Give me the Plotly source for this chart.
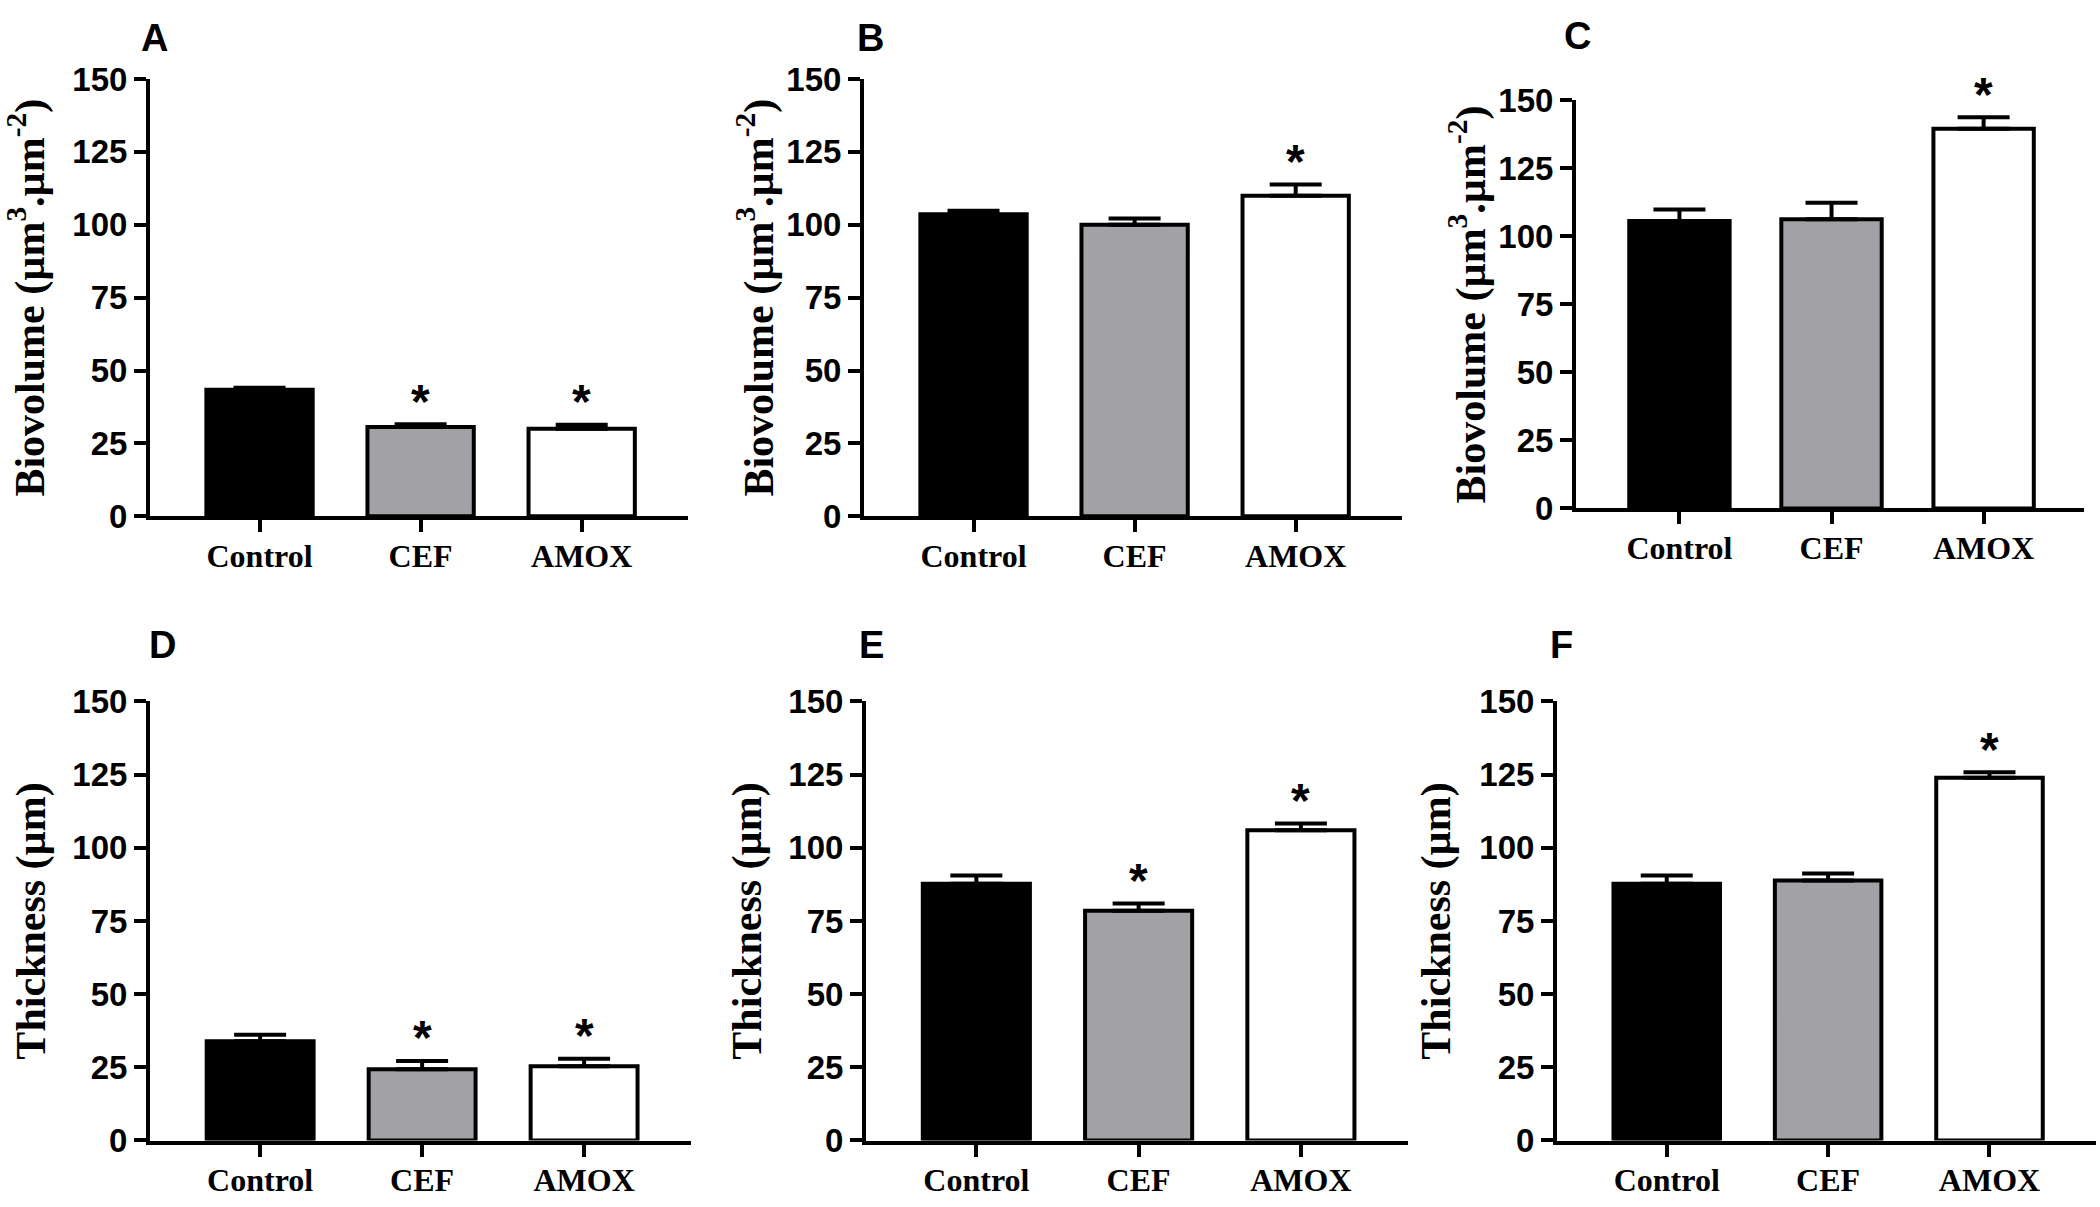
import plotly.graph_objects as go

W, H = 2100, 1207

categories = ["Control", "CEF", "AMOX"]
panel_letters = ["A", "B", "C", "D", "E", "F"]
y_titles = ["Biovolume (µm<sup>3</sup>.µm<sup>-2</sup>)"] * 3 + ["Thickness (µm)"] * 3
y_tick_values = [0, 25, 50, 75, 100, 125, 150]

# Means and (upper) error bars
mean_A = [43.4, 30.6, 30.0]
err_A = [0.7, 1.0, 1.4]
mean_B = [103.6, 100.0, 110.0]
err_B = [1.2, 2.2, 3.8]
mean_C = [105.7, 106.3, 139.6]
err_C = [4.2, 6.1, 4.2]
mean_D = [33.9, 24.3, 25.4]
err_D = [2.2, 2.9, 2.5]
mean_E = [87.7, 78.5, 106.0]
err_E = [2.8, 2.5, 2.3]
mean_F = [87.7, 88.8, 123.9]
err_F = [2.8, 2.4, 1.9]

# significance markers (*)
sig_A = [False, True, True]
sig_B = [False, False, True]
sig_C = [False, False, True]
sig_D = [False, True, True]
sig_E = [False, True, True]
sig_F = [False, False, True]

means = [mean_A, mean_B, mean_C, mean_D, mean_E, mean_F]
errs = [err_A, err_B, err_C, err_D, err_E, err_F]
sigs = [sig_A, sig_B, sig_C, sig_D, sig_E, sig_F]

bar_colors = ["#000000", "#a2a2a6", "#ffffff"]

# layout geometry in pixels: (x0, x1, ytop, ybottom)
boxes = [
    (150, 688, 63, 514),
    (864, 1402, 63, 514),
    (1576, 2084, 85, 506),
    (150, 691, 705, 1158),
    (866, 1408, 705, 1158),
    (1557, 2096, 705, 1158),
]
title_standoff = [17, 1, 1, 15, 15, 17]
letter_pos = [(154, 21), (870, 21), (1577, 19), (162, 647), (871, 647), (1561, 647)]

SANS = "Liberation Sans"
SERIF = "Liberation Serif"

fig = go.Figure()
annotations = []
for i in range(6):
    n = "" if i == 0 else str(i + 1)
    xa, ya = "x" + n, "y" + n
    fig.add_trace(go.Bar(
        x=categories, y=means[i], xaxis=xa, yaxis=ya,
        width=0.66,
        marker=dict(color=bar_colors, line=dict(color="black", width=4)),
        error_y=dict(type="data", array=errs[i], arrayminus=[0, 0, 0], symmetric=False,
                     color="black", thickness=4, width=26),
        showlegend=False, hoverinfo="skip",
    ))
    x0, x1, yt, yb = boxes[i]
    fig.layout["xaxis" + n] = dict(
        domain=[x0 / W, x1 / W], anchor=ya, range=[-0.68, 2.66],
        showline=True, linecolor="black", linewidth=4,
        ticks="outside", ticklen=12, tickwidth=4, tickcolor="black",
        ticklabelstandoff=-4,
        tickfont=dict(family=SERIF, size=32, color="black", weight="bold"),
        showgrid=False, zeroline=False, fixedrange=True,
    )
    fig.layout["yaxis" + n] = dict(
        domain=[1 - yb / H, 1 - yt / H], anchor=xa, range=[0, 150],
        tickvals=y_tick_values,
        showline=True, linecolor="black", linewidth=4,
        ticks="outside", ticklen=12, tickwidth=4, tickcolor="black",
        tickfont=dict(family=SANS, size=33, color="black", weight="bold"),
        title=dict(text=y_titles[i], standoff=title_standoff[i],
                   font=dict(family=SERIF, size=42, color="black", weight="bold")),
        showgrid=False, zeroline=False, fixedrange=True,
    )
    # panel letter
    lx, ly = letter_pos[i]
    annotations.append(dict(
        text=panel_letters[i], xref="paper", yref="paper",
        x=lx / W, y=1 - ly / H, xanchor="center", yanchor="middle", showarrow=False,
        font=dict(family=SANS, size=38, color="black", weight="bold"),
    ))
    # significance stars
    for c, m, e, s in zip(categories, means[i], errs[i], sigs[i]):
        if s:
            annotations.append(dict(
                text="*", xref=xa, yref=ya, x=c, y=m + e,
                xanchor="center", yanchor="middle", yshift=23, showarrow=False,
                font=dict(family=SANS, size=48, color="black", weight="bold"),
            ))

fig.update_layout(
    width=W, height=H, margin=dict(l=0, r=0, t=0, b=0),
    paper_bgcolor="white", plot_bgcolor="white",
    annotations=annotations,
)
post = (
    "document.body.style.margin='0px';"
    "document.body.style.overflow='hidden';"
    "var d=document.getElementById('{plot_id}');"
    "d.style.position='absolute';d.style.top='0px';d.style.left='0px';"
)
fig.write_html("out.html", config={"displayModeBar": False}, post_script=post)
